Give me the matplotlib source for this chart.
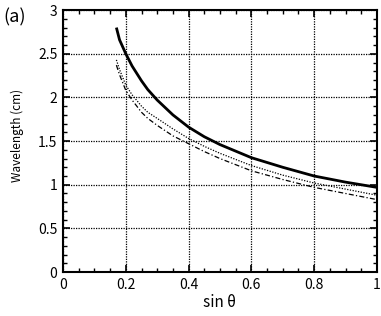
import numpy as np
import matplotlib
matplotlib.use("Agg")
import matplotlib.pyplot as plt
from matplotlib.ticker import MultipleLocator

plt.rcParams['font.family'] = ['Noto Sans CJK JP', 'DejaVu Sans']

# values
sin_theta = [0.17, 0.18, 0.2, 0.22, 0.25, 0.27, 0.3, 0.35, 0.4, 0.45, 0.5, 0.6, 0.7, 0.8, 0.9, 1.0]
wl_solid = [2.80, 2.66, 2.50, 2.36, 2.19, 2.09, 1.97, 1.80, 1.66, 1.55, 1.46, 1.31, 1.20, 1.10, 1.03, 0.97]
wl_dotted = [2.43, 2.32, 2.14, 2.03, 1.90, 1.83, 1.76, 1.64, 1.53, 1.44, 1.36, 1.22, 1.11, 1.02, 0.95, 0.88]
wl_dashdot = [2.37, 2.26, 2.08, 1.97, 1.83, 1.76, 1.68, 1.56, 1.47, 1.38, 1.30, 1.16, 1.06, 0.97, 0.90, 0.83]

x_ticks = [0, 0.2, 0.4, 0.6, 0.8, 1.0]
x_labels = ['0', '0.2', '0.4', '0.6', '0.8', '1']
y_ticks = [0, 0.5, 1.0, 1.5, 2.0, 2.5, 3.0]
y_labels = ['0', '0.5', '1', '1.5', '2', '2.5', '3']

fig = plt.figure(figsize=(3.81, 3.16), dpi=100)
ax = fig.add_axes([0.1654, 0.139, 0.824, 0.829])

ax.plot(sin_theta, wl_solid, color='black', lw=2.0, solid_capstyle='butt')
ax.plot(sin_theta, wl_dotted, color='black', lw=0.9, linestyle=(0, (1, 1.2)))
ax.plot(sin_theta, wl_dashdot, color='black', lw=0.9, linestyle=(0, (4, 1.8, 1, 1.8)))

ax.set_xlim(0, 1)
ax.set_ylim(0, 3)
ax.set_xticks(x_ticks)
ax.set_xticklabels(x_labels)
ax.set_yticks(y_ticks)
ax.set_yticklabels(y_labels)
ax.xaxis.set_minor_locator(MultipleLocator(0.05))
ax.yaxis.set_minor_locator(MultipleLocator(0.1))

ax.grid(True, which='major', color='black', lw=0.9, linestyle=(0, (1, 1)))
ax.tick_params(which='both', direction='in', top=True, right=True, color='black')
ax.tick_params(which='major', length=5, width=1.2, labelsize=10, pad=4)
ax.tick_params(which='minor', length=3, width=1.0)
for s in ax.spines.values():
    s.set_linewidth(1.5)

ax.set_xlabel('sin θ', fontsize=11)
ax.xaxis.set_label_coords(0.5, -0.115)
ax.xaxis.label.set_va('center')
ax.set_ylabel('Wavelength (cm)', fontsize=8.5)
ax.yaxis.set_label_coords(-0.146, 0.52)
ax.yaxis.label.set_va('center')
fig.text(0.008, 0.975, '(a)', fontsize=13, ha='left', va='top')

fig.savefig('out.png', dpi=100)
